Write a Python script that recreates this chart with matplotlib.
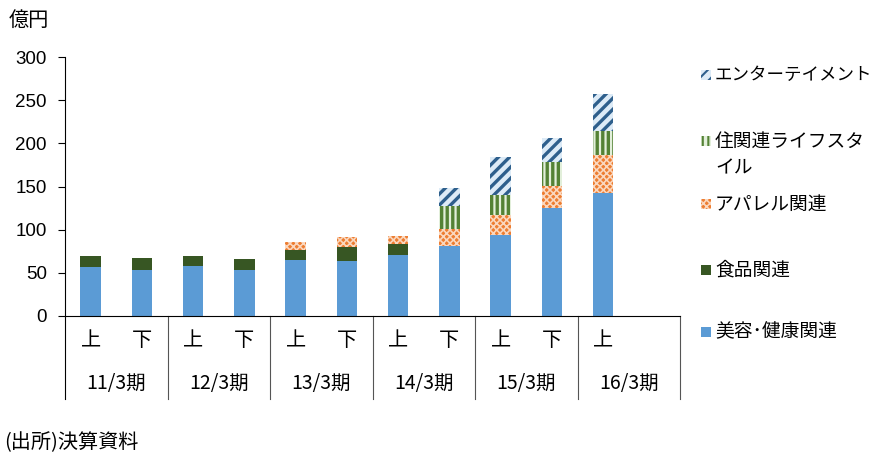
import matplotlib
matplotlib.use("Agg")
import matplotlib.pyplot as plt
from matplotlib.patches import Rectangle

plt.rcParams['font.family'] = ['Noto Sans CJK JP', 'DejaVu Sans']
plt.rcParams['hatch.linewidth'] = 2.0

# ---- data ----
halves = ['上', '下', '上', '下', '上', '下', '上', '下', '上', '下', '上']
periods = ['11/3期', '12/3期', '13/3期', '14/3期', '15/3期', '16/3期']
series_names = ['美容･健康関連', '食品関連', 'アパレル関連', '住関連ライフスタイル', 'エンターテイメント']
beauty = [57, 53, 58, 53, 65, 64, 71, 81, 94, 125, 142]
food = [12, 14, 12, 13, 11, 16, 12, 0, 0, 0, 0]
apparel = [0, 0, 0, 0, 10, 12, 10, 20, 23, 26, 44]
housing = [0, 0, 0, 0, 0, 0, 0, 26, 23, 27, 28]
entertain = [0, 0, 0, 0, 0, 0, 0, 21, 44, 28, 43]
yticks = [0, 50, 100, 150, 200, 250, 300]

series = [beauty, food, apparel, housing, entertain]
styles = [
    dict(facecolor='#5B9BD5', edgecolor='#5B9BD5', hatch=None, hlw=1.0),
    dict(facecolor='#375623', edgecolor='#375623', hatch=None, hlw=1.0),
    dict(facecolor='#ED7D31', edgecolor='#FAD7BE', hatch='xxxxx', hlw=1.2),
    dict(facecolor='#E2EFDA', edgecolor='#548235', hatch='|||', hlw=2.4),
    dict(facecolor='#DDEBF7', edgecolor='#2E5F8C', hatch='///', hlw=2.4),
]

W, H = 877, 455
fig = plt.figure(figsize=(W / 100, H / 100), dpi=100)
ax = fig.add_axes([65 / W, 1 - 316 / H, (680 - 65) / W, (316 - 57) / H])

x = list(range(len(halves)))
bottom = [0] * len(x)
for vals, st in zip(series, styles):
    with plt.rc_context({'hatch.linewidth': st['hlw']}):
        ax.bar(x, vals, width=0.4, bottom=bottom, linewidth=0,
               facecolor=st['facecolor'], edgecolor=st['edgecolor'],
               hatch=st['hatch'], zorder=2)
    bottom = [b + v for b, v in zip(bottom, vals)]

ax.set_xlim(-0.5, 11.5)
ax.set_ylim(0, 300)
ax.set_yticks(yticks)
ax.tick_params(axis='y', direction='out', length=5, width=0.8, pad=8, labelsize=13.5)
for lab in ax.get_yticklabels():
    lab.set_fontfamily(['Liberation Sans', 'DejaVu Sans'])
ax.set_xticks([])
for s in ['top', 'right', 'left']:
    ax.spines[s].set_visible(False)
ax.spines['bottom'].set_linewidth(0.8)

trans = ax.get_xaxis_transform()
low = -(399 - 316) / (316 - 57)
ax.plot([-0.5, -0.5], [1, low], transform=trans, color='black', lw=0.8, clip_on=False)
for g in range(len(periods)):
    xs = 1.5 + 2 * g
    ax.plot([xs, xs], [0, low], transform=trans, color='#555555', lw=0.8, clip_on=False)

row1 = -(341 - 316) / (316 - 57)
row2 = -(384 - 316) / (316 - 57)
for i, h in enumerate(halves):
    ax.text(i, row1, h, transform=trans, ha='center', va='center', fontsize=14.5)
for g, p in enumerate(periods):
    ax.text(0.5 + 2 * g, row2, p, transform=trans, ha='center', va='center', fontsize=14)

fig.text(29 / W, 1 - 20 / H, '億円', ha='center', va='center', fontsize=14.5)
fig.text(4 / W, 1 - 443 / H, '(出所)決算資料', ha='left', va='center', fontsize=14.5)

# ---- legend (manual) ----
lax = fig.add_axes([0, 0, 1, 1])
lax.set_xlim(0, W)
lax.set_ylim(H, 0)
lax.axis('off')
leg_y = [332, 270, 204, 141, 75]
leg_labels = ['美容･健康関連', '食品関連', 'アパレル関連', '住関連ライフスタ\nイル', 'エンターテイメント']
for yy, lab, st in zip(leg_y, leg_labels, styles):
    with plt.rc_context({'hatch.linewidth': min(st['hlw'], 1.5)}):
        lax.add_patch(Rectangle((701, yy - 5), 10, 10, facecolor=st['facecolor'],
                                edgecolor=st['edgecolor'], hatch=st['hatch'], linewidth=0))
    if '\n' in lab:
        l1, l2 = lab.split('\n')
        lax.text(715, yy, l1, ha='left', va='center', fontsize=13.5)
        lax.text(715, yy + 27, l2, ha='left', va='center', fontsize=13.5)
    else:
        fs = 12.6 if len(lab) > 8 else 13.5
        lax.text(715, yy, lab, ha='left', va='center', fontsize=fs)

fig.savefig('out.png', dpi=100)
